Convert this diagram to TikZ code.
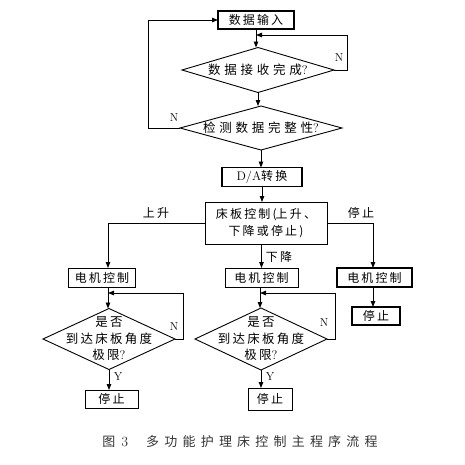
\documentclass[tikz,border=0pt]{standalone}
\usepackage{fontspec}
\usetikzlibrary{shapes.geometric,arrows.meta,calc}
\newfontfamily\cjk[LetterSpace=18]{Noto Sans CJK SC}
\newfontfamily\cjkwide[LetterSpace=30]{Noto Sans CJK SC}
\newfontfamily\cjkcap[LetterSpace=40]{Noto Sans CJK SC}
\begin{document}
\begin{tikzpicture}[x=1pt,y=-1pt,
  every node/.style={inner sep=0pt,outer sep=0pt},
  proc/.style={draw,line width=1.1pt,rectangle,minimum height=18pt,font=\fontsize{12}{14}\selectfont\cjk},
  dia/.style={draw,line width=0.9pt,diamond,inner sep=0pt},
  dtext/.style={font=\fontsize{12.5}{16.5}\selectfont\cjk,align=center},
  dwide/.style={font=\fontsize{12.5}{16.5}\selectfont\cjkwide,align=center},
  lab/.style={font=\fontsize{12}{14}\selectfont\cjk},
  yn/.style={font=\fontsize{11.5}{12}\selectfont},
  arr/.style={draw,line width=0.9pt,-{Triangle[length=6pt,width=4.5pt]}},
  ln/.style={draw,line width=0.9pt}]
\useasboundingbox (0,0) rectangle (465,464);
% top column
\node[proc,minimum width=76pt] (in) at (256,20) {数据输入};
\node[dia,minimum width=152pt,minimum height=45pt,label={[dwide]center:数据接收完成{\normalfont ?}}] (d1) at (258,70) {};
\node[dia,minimum width=162pt,minimum height=44pt,label={[dwide]center:检测数据完整性{\normalfont ?}}] (d2) at (261,128) {};
\node[proc,minimum width=80pt,minimum height=19pt] (da) at (262,177) {{\normalfont\fontsize{12.5}{14}\selectfont D/A}转换};
\node[proc,line width=0.9pt,minimum width=122pt,minimum height=42pt,align=center,font=\fontsize{12}{17}\selectfont\cjk] (ctrl) at (266,223) {床板控制({\kern-1pt}上升、\\下降或停止)};
\coordinate (j1) at (256,35);
\draw[arr] (in.south) -- (in.south |- d1.north);
\draw[arr] (d1.east) -- ++(13,0) |- (j1);
\node[yn] (n1) at (339,58) {N};
\draw[arr] (d1.south) -- (d1.south |- d2.north);
\draw[arr] (d2.west) -- ++(-32,0) |- (in.west);
\node[yn] (n2) at (174,118) {N};
\draw[arr] (d2.south) -- (d2.south |- da.north);
\draw[arr] (da.south) -- (da.south |- ctrl.north);
% motor boxes
\node[proc,line width=0.9pt,minimum width=67pt,minimum height=19pt] (m1) at (102,277.5) {电机控制};
\node[proc,line width=0.9pt,minimum width=73pt,minimum height=19pt] (m2) at (261.5,277.5) {电机控制};
\node[proc,line width=1.2pt,minimum width=75pt,minimum height=19pt] (m3) at (374.5,277.5) {电机控制};
% branches
\draw[arr] (ctrl.west) -| ([xshift=6pt]m1.north);
\node[lab] (up) at (156,213) {上升};
\draw[arr] (ctrl.east) -| ([xshift=-1.5pt]m3.north);
\node[lab] (stop) at (361,213) {停止};
\draw[arr] (ctrl.south -| m2.north) -- (m2.north);
\node[lab] (down) at (279,257) {下降};
% left column
\node[dia,minimum width=132pt,minimum height=61pt,label={[dtext]center:是否\\到达床板角度\\极限{\normalfont ?}}] (dl) at (109,339) {};
\coordinate (j2) at (108,293);
\draw[arr] ([xshift=6pt]m1.south) -- ([xshift=6pt]m1.south |- dl.north);
\draw[arr] (dl.east) -- ++(8,0) |- (j2);
\node[yn] (n3) at (174,327) {N};
\node[proc,line width=0.9pt,minimum width=53pt,minimum height=18pt] (s1) at (111.5,399) {停止};
\draw[arr] (dl.south) -- (dl.south |- s1.north);
\node[yn] (y1) at (118,377) {Y};
% middle column
\node[dia,minimum width=132pt,minimum height=62pt,label={[dtext]center:是否\\到达床板角度\\极限{\normalfont ?}}] (dm) at (261,339) {};
\coordinate (j3) at (260,293);
\draw[arr] (m2.south -| j3) -- (j3 |- dm.north);
\draw[arr] (dm.east) -- ++(8,0) |- (j3);
\node[yn] (n4) at (324,323) {N};
\node[proc,line width=0.9pt,minimum width=44pt,minimum height=22pt] (s2) at (270,399) {停止};
\draw[arr] (dm.south) -- (dm.south |- s2.north);
\node[yn] (y2) at (270,377) {Y};
% right column
\node[proc,line width=1.1pt,minimum width=48pt,minimum height=18pt] (s3) at (376,316) {停止};
\draw[arr] ([xshift=-1.5pt]m3.south) -- ([xshift=-1.5pt]m3.south |- s3.north);
% caption
\node[font=\fontsize{13}{15}\selectfont\cjkcap,text=black!80] (cap) at (240,442) {图\hspace{6pt}{\normalfont\fontsize{14}{15}\selectfont 3}\hspace{18pt}多功能护理床控制主程序流程};
\end{tikzpicture}
\end{document}
